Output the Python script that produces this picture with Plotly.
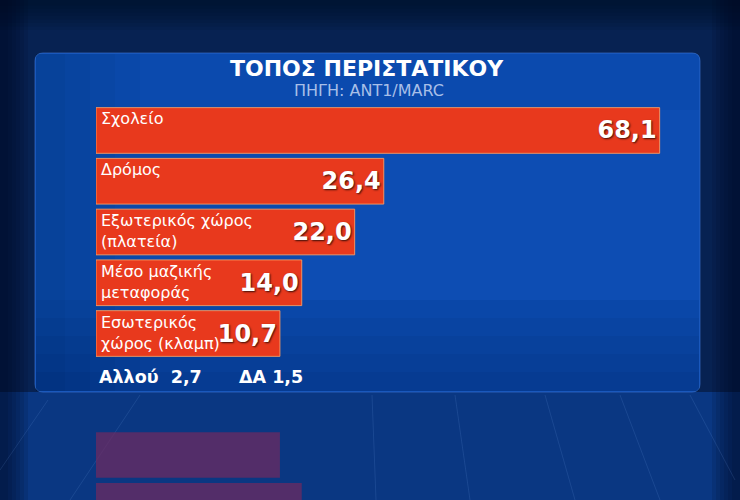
import plotly.graph_objects as go

# ---- data ----
categories = ["Σχολείο", "Δρόμος", "Εξωτερικός χώρος<br>(πλατεία)",
              "Μέσο μαζικής<br>μεταφοράς", "Εσωτερικός<br>χώρος (κλαμπ)"]
values = [68.1, 26.4, 22.0, 14.0, 10.7]
other_labels = ["Αλλού", "ΔΑ"]
other_values = [2.7, 1.5]
title_text = "ΤΟΠΟΣ ΠΕΡΙΣΤΑΤΙΚΟΥ"
source_text = "ΠΗΓΗ: ANT1/MARC"

W, H = 740, 500
BAR_BASE = -17.1          # bars start left of zero (broadcast graphic style)
X_MAX = 74.2
FONT = "DejaVu Sans"

def fmt(v):
    return f"{v:.1f}".replace(".", ",")

def px(x):
    return x / W

def py(y):
    return 1 - y / H

fig = go.Figure()

# main bars
fig.add_trace(go.Bar(
    y=categories, x=[v - BAR_BASE for v in values], base=BAR_BASE,
    orientation="h",
    marker=dict(color="#e8391d", line=dict(color="rgba(255,160,100,0.85)", width=1)),
    text=[fmt(v) for v in values], textposition="inside", insidetextanchor="end",
    textangle=0, constraintext="none",
    textfont=dict(family=FONT, size=24, color="white", weight="bold",
                  shadow="1px 1px 2px rgba(0,0,0,0.75)"),
    hoverinfo="skip", showlegend=False, xaxis="x", yaxis="y",
))

# reflection bars
fig.add_trace(go.Bar(
    y=categories, x=[v - BAR_BASE for v in values], base=BAR_BASE,
    orientation="h",
    marker=dict(color="rgba(112,42,96,0.72)", line=dict(width=0)),
    hoverinfo="skip", showlegend=False, xaxis="x", yaxis="y2",
))

ann = []
# category labels, top-left inside each bar
for c in categories:
    ann.append(dict(x=BAR_BASE, y=c, xref="x", yref="y", text=c,
                    xanchor="left", yanchor="top", align="left",
                    xshift=3, yshift=23, showarrow=False,
                    font=dict(family=FONT, size=16, color="white")))

# title / source
ann.append(dict(x=px(367), y=py(68), xref="paper", yref="paper", text=title_text,
                showarrow=False, xanchor="center", yanchor="middle",
                font=dict(family=FONT, size=22, color="white", weight="bold")))
ann.append(dict(x=px(369), y=py(91), xref="paper", yref="paper", text=source_text,
                showarrow=False, xanchor="center", yanchor="middle",
                font=dict(family=FONT, size=16, color="#a8bfe8")))

# other answers under the bars
other_x = [97, 237]
for lab, val, xx in zip(other_labels, other_values, other_x):
    gap = "\u00a0\u00a0" if lab == "Αλλού" else "\u00a0"
    ann.append(dict(x=px(xx), y=py(377), xref="paper", yref="paper",
                    text=lab + gap + fmt(val),
                    showarrow=False, xanchor="left", yanchor="middle",
                    font=dict(family=FONT, size=17.5, color="white", weight="bold")))

shapes = []
def rect(x0, y0, x1, y1, color):
    shapes.append(dict(type="rect", xref="paper", yref="paper", layer="below",
                       x0=px(x0), x1=px(x1), y0=py(y1), y1=py(y0),
                       fillcolor=color, line=dict(width=0)))

# background vignette
for i in range(8):
    rect(0, 0, W, 30 - i * 3.5, "rgba(2,10,30,0.08)")
rect(0, 392, W, 500, "#0a3782")
for i in range(6):
    rect(0, 0, 28 - i * 4, 500, "rgba(2,10,30,0.12)")
    rect(712 + i * 4, 0, W, 500, "rgba(2,10,30,0.12)")
# floor perspective lines
for (x0, y0, x1, y1) in [(48, 400, 0, 470), (140, 395, 70, 500), (372, 395, 376, 500),
                         (455, 395, 470, 500), (545, 395, 575, 500), (620, 395, 660, 500),
                         (690, 395, 735, 480)]:
    shapes.append(dict(type="line", xref="paper", yref="paper", layer="below",
                       x0=px(x0), y0=py(y0), x1=px(x1), y1=py(y1),
                       line=dict(color="rgba(140,185,255,0.13)", width=1)))

# rounded panel
L, T, R, B, r = 35, 53, 700, 392, 8
rx, ry = r / W, r / H
path = (f"M {px(L)+rx},{py(T)} L {px(R)-rx},{py(T)} Q {px(R)},{py(T)} {px(R)},{py(T)-ry} "
        f"L {px(R)},{py(B)+ry} Q {px(R)},{py(B)} {px(R)-rx},{py(B)} "
        f"L {px(L)+rx},{py(B)} Q {px(L)},{py(B)} {px(L)},{py(B)+ry} "
        f"L {px(L)},{py(T)-ry} Q {px(L)},{py(T)} {px(L)+rx},{py(T)} Z")
shapes.append(dict(type="path", path=path, xref="paper", yref="paper", layer="below",
                   fillcolor="#0b4aae", line=dict(color="rgba(70,130,225,0.55)", width=1)))
# subtle panel shading
for i in range(5):
    rect(36, 300 + i * 18, 699, 391, "rgba(0,18,60,0.05)")
for i in range(4):
    rect(36, 54, 140 - i * 25, 391, "rgba(0,18,60,0.04)")
rect(300, 110, 699, 300, "rgba(40,110,230,0.10)")

fig.update_layout(
    width=W, height=H,
    margin=dict(l=0, r=0, t=0, b=0),
    paper_bgcolor="#072252", plot_bgcolor="rgba(0,0,0,0)",
    bargap=0.1,
    xaxis=dict(domain=[px(96), px(700)], range=[BAR_BASE, X_MAX], visible=False,
               fixedrange=True),
    yaxis=dict(domain=[py(358.9), py(105.1)], range=[4.5, -0.5], visible=False,
               categoryorder="array", categoryarray=categories, anchor="x"),
    yaxis2=dict(domain=[0, py(429.6)], range=[3.113, 4.5], visible=False,
                categoryorder="array", categoryarray=categories, anchor="x"),
    annotations=ann, shapes=shapes,
)

fig.write_html("out.html", config={"displayModeBar": False},
               post_script="document.body.style.margin='0';")
